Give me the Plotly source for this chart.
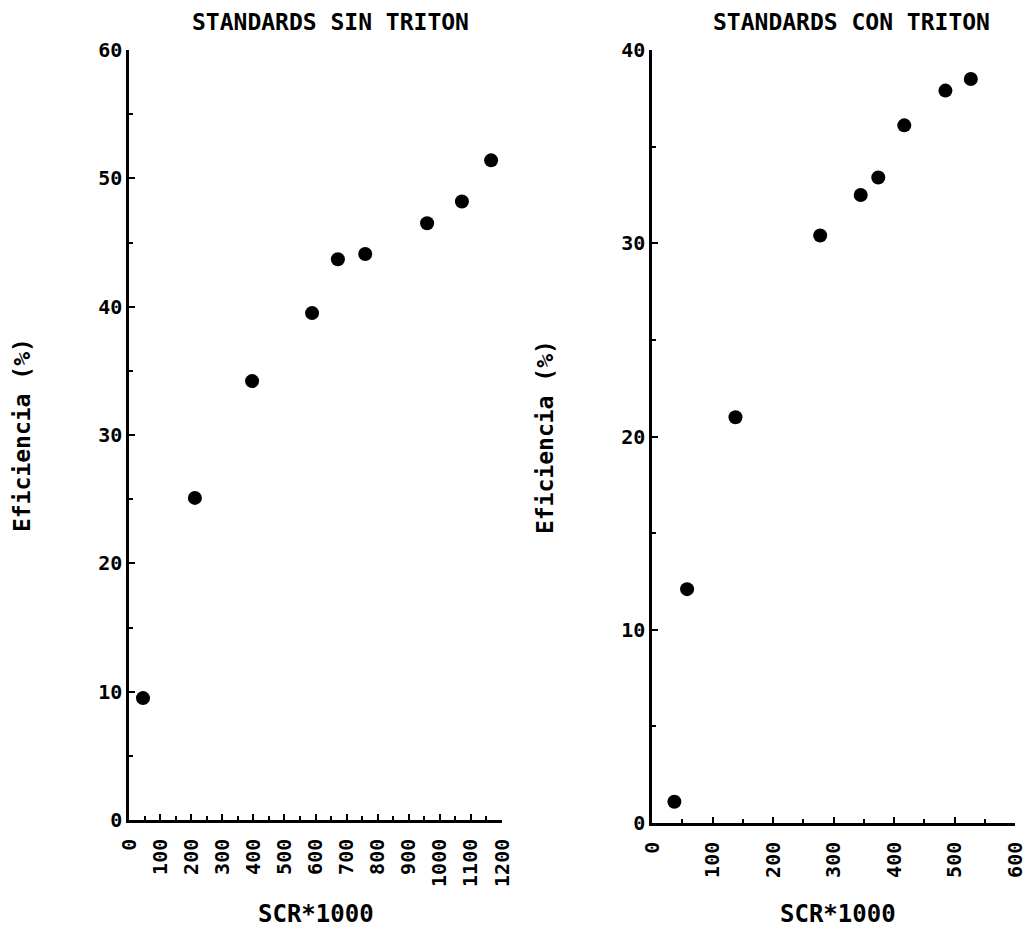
import plotly.graph_objects as go

# Left panel: standards without Triton
sin_scr = [45, 212, 396, 589, 672, 760, 959, 1071, 1165]
sin_eff = [9.5, 25.1, 34.2, 39.5, 43.7, 44.1, 46.5, 48.2, 51.4]

# Right panel: standards with Triton
con_scr = [37, 58, 138, 278, 345, 374, 417, 485, 527]
con_eff = [1.1, 12.1, 21.0, 30.4, 32.5, 33.4, 36.1, 37.9, 38.5]

W, H = 1032, 934
FONT = "DejaVu Sans Mono"

fig = go.Figure()
fig.add_trace(go.Scatter(x=sin_scr, y=sin_eff, mode="markers",
                         marker=dict(color="black", size=14),
                         xaxis="x", yaxis="y", showlegend=False))
fig.add_trace(go.Scatter(x=con_scr, y=con_eff, mode="markers",
                         marker=dict(color="black", size=14),
                         xaxis="x2", yaxis="y2", showlegend=False))

tickfont = dict(family=FONT, size=20, color="black", weight="bold")


def xaxis(domain, rng, anchor):
    return dict(domain=domain, range=rng, anchor=anchor, dtick=100, tick0=0,
                ticks="inside", ticklen=6, tickwidth=2, tickcolor="black",
                minor=dict(dtick=50, ticks="inside", ticklen=4, tickwidth=2, tickcolor="black"),
                showline=True, linecolor="black", linewidth=2.5, showgrid=False,
                zeroline=False, tickangle=-90, tickfont=tickfont, ticklabelstandoff=8,
                ticklabeloverflow="allow", automargin=False, fixedrange=True)


def yaxis(domain, rng, anchor):
    return dict(domain=domain, range=rng, anchor=anchor, dtick=10, tick0=0,
                ticks="inside", ticklen=6, tickwidth=2, tickcolor="black",
                minor=dict(dtick=5, ticks="inside", ticklen=4, tickwidth=2, tickcolor="black"),
                showline=True, linecolor="black", linewidth=2.5, showgrid=False,
                zeroline=False, tickfont=tickfont, ticklabeloverflow="allow",
                automargin=False, fixedrange=True)


fig.update_layout(
    width=W, height=H, margin=dict(l=0, r=0, t=0, b=0, autoexpand=False),
    paper_bgcolor="white", plot_bgcolor="white",
    xaxis=xaxis([129 / W, 502 / W], [0, 1200], "y"),
    yaxis=yaxis([(H - 820) / H, (H - 50) / H], [0, 60], "x"),
    xaxis2=xaxis([652 / W, 1015 / W], [0, 600], "y2"),
    yaxis2=yaxis([(H - 823) / H, (H - 50) / H], [0, 40], "x2"),
)


def label(text, x, y, size, angle=0):
    fig.add_annotation(text=text, x=x / W, y=1 - y / H, xref="paper", yref="paper",
                       showarrow=False, textangle=angle,
                       font=dict(family=FONT, size=size, color="black", weight="bold"),
                       xanchor="center", yanchor="middle")


label("STANDARDS SIN TRITON", 330, 22, 23)
label("STANDARDS CON TRITON", 851, 22, 23)
label("SCR*1000", 316, 914, 24)
label("SCR*1000", 838, 914, 24)
label("Eficiencia (%)", 22, 435, 23, -90)
label("Eficiencia (%)", 545, 437, 23, -90)

fig.write_html("out.html")
